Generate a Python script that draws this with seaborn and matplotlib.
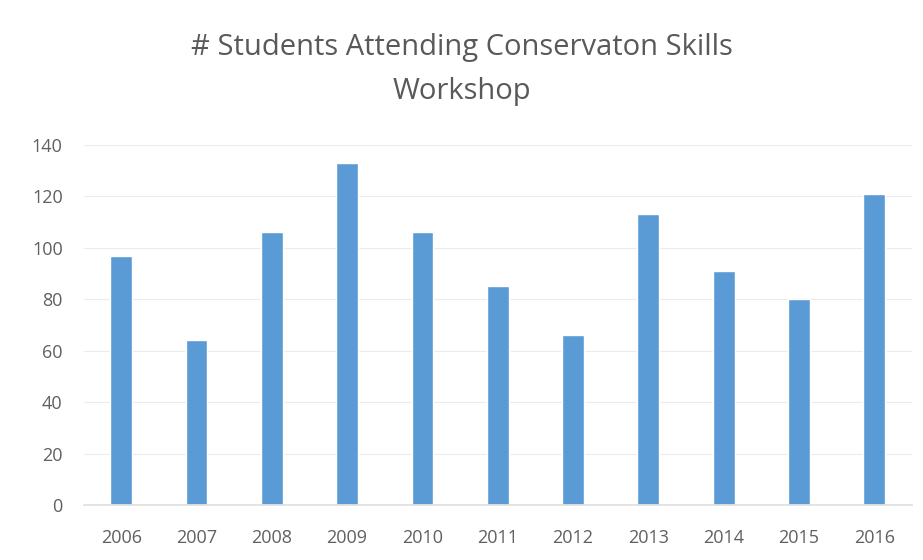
import matplotlib
matplotlib.use("Agg")
import matplotlib.pyplot as plt
import seaborn as sns
import pandas as pd

# data
years = ['2006', '2007', '2008', '2009', '2010', '2011', '2012', '2013', '2014', '2015', '2016']
students = [97, 64, 106, 133, 106, 85, 66, 113, 91, 80, 121]

df = pd.DataFrame({'year': years, 'students': students})

sns.set_theme(style='white')
plt.rcParams['font.family'] = ['Open Sans', 'DejaVu Sans']

fig = plt.figure(figsize=(9.23, 5.6), dpi=100)
ax = fig.add_axes([83.5 / 923, 1 - 505 / 560, (912 - 83.5) / 923, 360 / 560])

sns.barplot(data=df, x='year', y='students', color='#5B9BD5', saturation=1,
            width=0.29, ax=ax)

ax.set_ylim(0, 140)
ax.set_yticks(range(0, 141, 20))
ax.yaxis.grid(True, color='#ececec', linewidth=0.8)
ax.set_axisbelow(True)
for s in ['top', 'right', 'left']:
    ax.spines[s].set_visible(False)
ax.spines['bottom'].set_color('#e0e0e0')
ax.set_xlabel('')
ax.set_ylabel('')
ax.tick_params(axis='both', length=0, labelsize=13, labelcolor='#606060')
ax.tick_params(axis='x', pad=17)
ax.tick_params(axis='y', pad=15)

fig.text(0.5, 1 - 47 / 560, '# Students Attending Conservaton Skills',
         ha='center', va='center', fontsize=21, color='#595959')
fig.text(0.5, 1 - 92 / 560, 'Workshop',
         ha='center', va='center', fontsize=21, color='#595959')

fig.savefig('out.png', dpi=100)
